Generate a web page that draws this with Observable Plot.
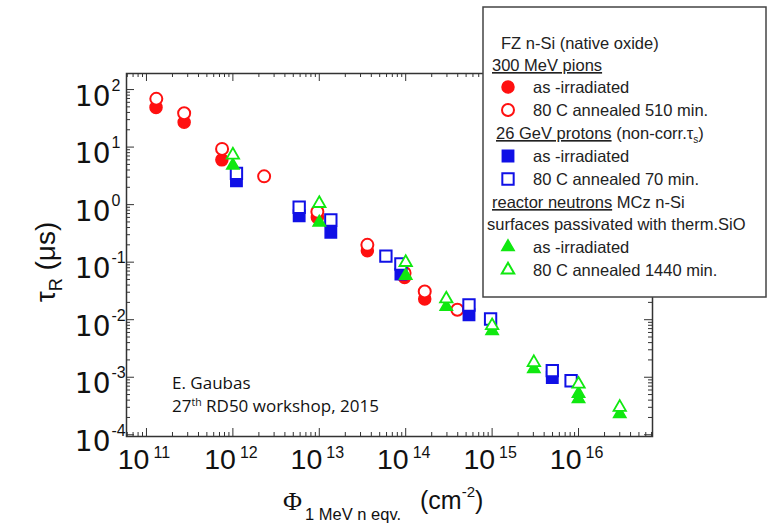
<!DOCTYPE html>
<html><head><meta charset="utf-8">
<script src="https://cdn.jsdelivr.net/npm/d3@7"></script>
<script src="https://cdn.jsdelivr.net/npm/@observablehq/plot@0.6"></script>
<style>html,body{margin:0;padding:0;background:#fff;}#chart{position:relative;width:768px;height:523px;}</style>
</head><body><div id="chart"></div>
<script>
// ---- data (fluence in cm^-2, recombination lifetime tau_R in microseconds) ----
const pionIrrFluence = [1.29e11, 2.73e11, 7.46e11, 9.5e12, 3.6e13, 9.7e13, 1.66e14];
const pionIrrTau     = [49, 27, 6.0, 0.6, 0.158, 0.054, 0.023];
const pionAnnFluence = [1.3e11, 2.73e11, 7.5e11, 2.3e12, 9.5e12, 3.6e13, 9.7e13, 1.66e14, 3.96e14];
const pionAnnTau     = [69, 38.7, 9.3, 3.1, 0.75, 0.2, 0.065, 0.031, 0.0149];
const protIrrFluence = [1.1e12, 5.85e12, 1.36e13, 8.8e13, 5.4e14, 4.97e15];
const protIrrTau     = [2.6, 0.64, 0.33, 0.062, 0.0122, 0.00099];
const protAnnFluence = [1.1e12, 5.85e12, 1.36e13, 5.9e13, 8.8e13, 5.4e14, 9.6e14, 4.97e15, 8.2e15];
const protAnnTau     = [3.5, 0.9, 0.54, 0.127, 0.093, 0.018, 0.0103, 0.0013, 0.00087];
const neutIrrFluence = [1.0e12, 1.0e13, 1.0e14, 2.95e14, 1.0e15, 3.04e15, 1.0e16, 1.0e16, 3.0e16];
const neutIrrTau     = [4.8, 0.49, 0.058, 0.0168, 0.0064, 0.00139, 0.00052, 0.00042, 0.00023];
const neutAnnFluence = [1.0e12, 1.0e13, 1.0e14, 2.95e14, 1.0e15, 3.04e15, 1.0e16, 3.0e16];
const neutAnnTau     = [7.3, 1.05, 0.099, 0.023, 0.0079, 0.0018, 0.00076, 0.0003];

// tick labels (decade exponents)
const xExponents = [11, 12, 13, 14, 15, 16];
const yExponents = [-4, -3, -2, -1, 0, 1, 2];

// legend texts
const legendTitle = "FZ n-Si (native oxide)";
const legendPions = "300 MeV pions";
const legendProtons = "26 GeV protons";
const legendNeutrons = "reactor neutrons";
const labelPionIrr = "as -irradiated", labelPionAnn = "80 C annealed 510 min.";
const labelProtIrr = "as -irradiated", labelProtAnn = "80 C annealed 70 min.";
const labelNeutIrr = "as -irradiated", labelNeutAnn = "80 C annealed 1440 min.";

const RED = "#ff1010", BLUE = "#1010e6", GREEN = "#10e810", AX = "#333";
const zip = (a, b) => a.map((v, i) => ({f: v, t: b[i]}));

const xDomain = [10 ** 10.769, 10 ** 16.856];
const yDomain = [10 ** -4.03, 10 ** 2.279];
const mL = 126, mR = 116, mT = 73, mB = 87, WIDTH = 768, HEIGHT = 523;
const PW = WIDTH - mL - mR, PH = HEIGHT - mT - mB;

const inDom = (v, d) => v >= d[0] && v <= d[1];
const minorOf = (lo, hi, dom) => d3.range(lo, hi + 1).flatMap(e => d3.range(2, 10).map(m => m * 10 ** e)).filter(v => inDom(v, dom));
const xMajor = xExponents.map(e => 10 ** e);
const yMajor = yExponents.map(e => 10 ** e);
const xMinor = minorOf(10, 16, xDomain);
const yMinor = minorOf(-5, 2, yDomain);

const svgEl = Plot.plot({
  width: WIDTH, height: HEIGHT,
  marginLeft: mL, marginRight: mR, marginTop: mT, marginBottom: mB,
  style: {background: "#fff", fontFamily: "Liberation Sans, Arial, sans-serif", overflow: "visible"},
  x: {type: "log", domain: xDomain, axis: null},
  y: {type: "log", domain: yDomain, axis: null},
  marks: [
    Plot.frame({stroke: AX, strokeWidth: 1.5}),
    // inward ticks on all four sides
    Plot.tickY(yMajor, {y: d => d, insetRight: PW - 8, stroke: AX}),
    Plot.tickY(yMajor, {y: d => d, insetLeft: PW - 8, stroke: AX}),
    Plot.tickY(yMinor, {y: d => d, insetRight: PW - 4, stroke: AX}),
    Plot.tickY(yMinor, {y: d => d, insetLeft: PW - 4, stroke: AX}),
    Plot.tickX(xMajor, {x: d => d, insetBottom: PH - 8, stroke: AX}),
    Plot.tickX(xMajor, {x: d => d, insetTop: PH - 8, stroke: AX}),
    Plot.tickX(xMinor, {x: d => d, insetBottom: PH - 4, stroke: AX}),
    Plot.tickX(xMinor, {x: d => d, insetTop: PH - 4, stroke: AX}),
    // tick labels
    Plot.text(yExponents, {frameAnchor: "left", y: d => 10 ** d, text: () => "10", textAnchor: "end", dx: -16, dy: 7, fontSize: 28, fontFamily: "DejaVu Sans", fill: "#111"}),
    Plot.text(yExponents, {frameAnchor: "left", y: d => 10 ** d, text: d => String(d), textAnchor: "start", dx: -15, dy: -4, fontSize: 16, fill: "#111"}),
    Plot.text(xExponents, {frameAnchor: "bottom", x: d => 10 ** d, text: () => "10", textAnchor: "end", dx: 3, dy: 32, fontSize: 28.5, fill: "#111"}),
    Plot.text(xExponents, {frameAnchor: "bottom", x: d => 10 ** d, text: d => String(d), textAnchor: "start", dx: 7, dy: 21, fontSize: 16, fill: "#111"}),
    // data
    Plot.dot(zip(pionIrrFluence, pionIrrTau), {x: "f", y: "t", r: 6, fill: RED, stroke: RED, strokeWidth: 1.5}),
    Plot.dot(zip(pionAnnFluence, pionAnnTau), {x: "f", y: "t", r: 6, fill: "#fff", stroke: RED, strokeWidth: 2}),
    Plot.dot(zip(protIrrFluence, protIrrTau), {x: "f", y: "t", r: 6.4, symbol: "square", fill: BLUE, stroke: BLUE, strokeWidth: 1.5}),
    Plot.dot(zip(protAnnFluence, protAnnTau), {x: "f", y: "t", r: 6.4, symbol: "square", fill: "#fff", stroke: BLUE, strokeWidth: 2}),
    Plot.dot(zip(neutIrrFluence, neutIrrTau), {x: "f", y: "t", r: 4.6, symbol: "triangle", fill: GREEN, stroke: GREEN, strokeWidth: 1.5}),
    Plot.dot(zip(neutAnnFluence, neutAnnTau), {x: "f", y: "t", r: 4.6, symbol: "triangle", fill: "#fff", stroke: GREEN, strokeWidth: 1.8})
  ]
});
document.getElementById("chart").append(svgEl);
const s = d3.select(svgEl);
const SANS = "Liberation Sans, Arial, sans-serif";

// axis titles
const yt = s.append("text").attr("transform", "translate(55,262) rotate(-90)").attr("text-anchor", "middle")
  .attr("font-family", SANS).attr("font-size", 28).attr("fill", "#111");
yt.append("tspan").text("τ");
yt.append("tspan").attr("font-size", 18).attr("dy", 7).text("R");
yt.append("tspan").attr("dy", -7).text(" (μs)");

const ov = s.append("g").attr("text-anchor", "start").attr("fill", "#111");
ov.append("text").attr("x", 283).attr("y", 510).attr("font-family", "Liberation Serif, serif").attr("font-size", 26).text("Φ");
ov.append("text").attr("x", 305).attr("y", 520).attr("font-family", SANS).attr("font-size", 16.5).text("1 MeV n eqv.");
const cm = ov.append("text").attr("x", 420).attr("y", 509).attr("font-family", SANS).attr("font-size", 25);
cm.append("tspan").text("(cm");
cm.append("tspan").attr("font-size", 15).attr("dy", -12).text("-2");
cm.append("tspan").attr("dy", 12).text(")");

// annotation
const ANN = "Open Sans, sans-serif";
ov.append("text").attr("x", 172).attr("y", 389).attr("font-family", ANN).attr("font-size", 17).text("E. Gaubas");
const a2 = ov.append("text").attr("x", 172).attr("y", 412).attr("font-family", ANN).attr("font-size", 17);
a2.append("tspan").text("27");
a2.append("tspan").attr("font-size", 10.5).attr("dy", -6).text("th");
a2.append("tspan").attr("dy", 6).text(" RD50 workshop, 2015");

// legend box
const lg = s.append("g").attr("font-family", SANS).attr("font-size", 16.5).attr("fill", "#222").attr("text-anchor", "start");
lg.append("rect").attr("x", 483).attr("y", 7).attr("width", 283).attr("height", 290).attr("fill", "#fff").attr("stroke", "#444").attr("stroke-width", 1.5);
lg.append("text").attr("x", 501).attr("y", 49).text(legendTitle);
lg.append("text").attr("x", 492).attr("y", 71).style("text-decoration", "underline").text(legendPions);
const l5 = lg.append("text").attr("x", 496).attr("y", 139);
l5.append("tspan").style("text-decoration", "underline").text(legendProtons);
l5.append("tspan").text(" (non-corr.τ");
l5.append("tspan").attr("font-size", 10).attr("dy", 4).text("s");
l5.append("tspan").attr("dy", -4).text(")");
const l8 = lg.append("text").attr("x", 492).attr("y", 208);
l8.append("tspan").style("text-decoration", "underline").text(legendNeutrons);
l8.append("tspan").text(" MCz n-Si");
lg.append("text").attr("x", 487).attr("y", 230).text("surfaces passivated with therm.SiO");

const entries = [
  {y: 87, sym: d3.symbolCircle, r: 6, c: RED, filled: true, label: labelPionIrr},
  {y: 110, sym: d3.symbolCircle, r: 6, c: RED, filled: false, label: labelPionAnn},
  {y: 156, sym: d3.symbolSquare, r: 6.4, c: BLUE, filled: true, label: labelProtIrr},
  {y: 179, sym: d3.symbolSquare, r: 6.4, c: BLUE, filled: false, label: labelProtAnn},
  {y: 247, sym: d3.symbolTriangle, r: 4.6, c: GREEN, filled: true, label: labelNeutIrr},
  {y: 270, sym: d3.symbolTriangle, r: 4.6, c: GREEN, filled: false, label: labelNeutAnn}
];
for (const e of entries) {
  lg.append("path").attr("transform", `translate(508,${e.y})`)
    .attr("d", d3.symbol(e.sym, Math.PI * e.r * e.r)())
    .attr("fill", e.filled ? e.c : "#fff").attr("stroke", e.c).attr("stroke-width", e.filled ? 1.5 : 2);
  lg.append("text").attr("x", 533).attr("y", e.y + 6).text(e.label);
}
</script></body></html>
